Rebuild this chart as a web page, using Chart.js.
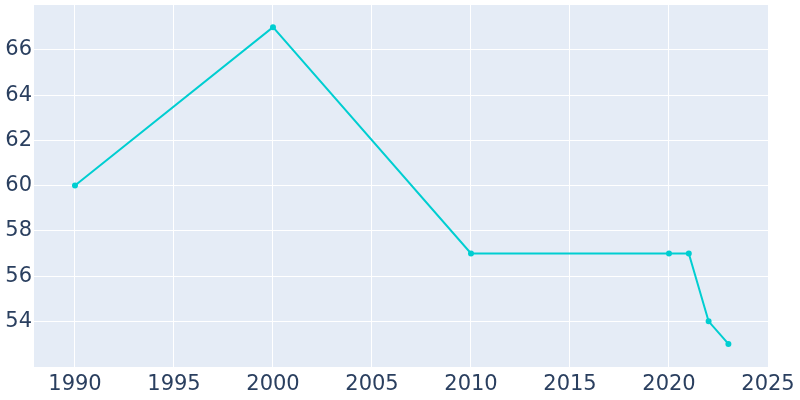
<!DOCTYPE html>
<html>
<head>
<meta charset="utf-8">
<script src="https://cdn.jsdelivr.net/npm/chart.js@4"></script>
<style>
  html, body { margin: 0; padding: 0; background: #fff; }
  #wrap { width: 800px; height: 400px; }
</style>
</head>
<body>
<div id="wrap"><canvas id="myChart"></canvas></div>
<script>
var years = [1990, 2000, 2010, 2020, 2021, 2022, 2023];
var values = [60, 67, 57, 57, 57, 54, 53];
var xTicks = [1990, 1995, 2000, 2005, 2010, 2015, 2020, 2025];
var yTicks = [54, 56, 58, 60, 62, 64, 66];

var plotBg = {
  id: 'plotBg',
  beforeDraw: function(chart) {
    var a = chart.chartArea, c = chart.ctx;
    c.save();
    c.fillStyle = '#E5ECF6';
    c.fillRect(a.left, a.top, a.right - a.left, a.bottom - a.top);
    c.restore();
  }
};

var ctx = document.getElementById('myChart').getContext('2d');
var myChart = new Chart(ctx, {
  type: 'line',
  data: {
    datasets: [{
      label: 'Population',
      data: years.map(function(y, i) { return { x: y, y: values[i] }; }),
      borderColor: '#00CED1',
      backgroundColor: '#00CED1',
      borderWidth: 2,
      pointRadius: 2,
      pointHoverRadius: 3,
      tension: 0,
      fill: false
    }]
  },
  options: {
    responsive: true,
    maintainAspectRatio: false,
    animation: false,
    layout: { padding: { top: 3, right: 32, left: 0, bottom: 0 } },
    plugins: { legend: { display: false }, tooltip: { enabled: false } },
    scales: {
      x: {
        type: 'linear',
        min: 1987.93,
        max: 2025.0,
        afterBuildTicks: function(s) { s.ticks = xTicks.map(function(v) { return { value: v }; }); },
        afterFit: function(s) { s.height = 33; s.paddingLeft = 0; s.paddingRight = 0; },
        grid: { color: '#ffffff', lineWidth: 1, drawTicks: false },
        border: { display: false },
        ticks: {
          color: '#2a3f5f',
          font: { family: 'DejaVu Sans', size: 21 },
          padding: 5,
          maxRotation: 0,
          callback: function(v) { return String(v); }
        }
      },
      y: {
        min: 51.98,
        max: 67.98,
        afterBuildTicks: function(s) { s.ticks = yTicks.map(function(v) { return { value: v }; }); },
        afterFit: function(s) { s.width = 34; s.paddingTop = 0; s.paddingBottom = 0; },
        grid: { color: '#ffffff', lineWidth: 1, drawTicks: false },
        border: { display: false },
        ticks: {
          color: '#2a3f5f',
          font: { family: 'DejaVu Sans', size: 21 },
          padding: 2
        }
      }
    }
  },
  plugins: [plotBg]
});
</script>
</body>
</html>
